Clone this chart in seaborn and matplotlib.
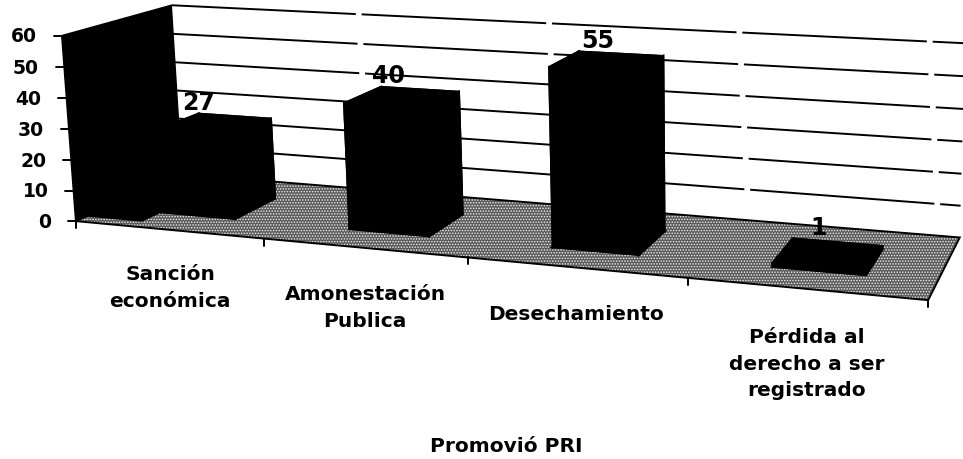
"""
Promovió PRI - 3D style column chart, seaborn bars pushed through a
perspective projection.
"""
import numpy as np
import pandas as pd
import seaborn as sns
import matplotlib.pyplot as plt
from matplotlib.patches import Polygon, Rectangle
from matplotlib.transforms import IdentityTransform, Transform

categories = ["Sanción\neconómica", "Amonestación\nPublica", "Desechamiento",
              "Pérdida al\nderecho a ser\nregistrado"]
values = [27, 40, 55, 1]
y_ticks = [0, 10, 20, 30, 40, 50, 60]
x_title = "Promovió PRI"

W, H = 963, 459
BAR_WIDTH = 0.40
DEPTH_FRONT, DEPTH_BACK = 0.28, 0.69
LABEL_DX = [0, 8, 19, 26]
PIXELS = IdentityTransform()

# known corners of the box: (category pos, value, depth) -> pixel
anchors = [
    ((-0.5, 0, 0), (76, 221)), ((3.5, 0, 0), (928, 300)),
    ((3.5, 0, 1), (960, 237)), ((-0.5, 0, 1), (181, 174)),
    ((-0.5, 60, 1), (172, 6)), ((-0.5, 60, 0), (61, 35)),
    ((3.5, 60, 1), (965, 43)), ((0.5, 0, 0), (265, 238)),
    ((1.5, 0, 0), (468, 258)), ((2.5, 0, 0), (688, 279)),
]


def fit_camera(points):
    rows = []
    for (x, z, d), (u, v) in points:
        rows.append([x, z, d, 1, 0, 0, 0, 0, -u * x, -u * z, -u * d, -u])
        rows.append([0, 0, 0, 0, x, z, d, 1, -v * x, -v * z, -v * d, -v])
    return np.linalg.svd(np.array(rows, dtype=float))[2][-1].reshape(3, 4)


CAMERA = fit_camera(anchors)


def project(x, z, d):
    """Pixel position in display coords (y up)."""
    x, z, d = np.broadcast_arrays(x, z, d)
    pts = np.stack([x, z, d, np.ones_like(x)], axis=-1).astype(float)
    res = pts @ CAMERA.T
    return np.stack([res[..., 0] / res[..., 2],
                     H - res[..., 1] / res[..., 2]], axis=-1)


class DepthPlane(Transform):
    """Data coords (category, value) on a plane at a fixed depth."""
    input_dims = 2
    output_dims = 2

    def __init__(self, plane_depth):
        super().__init__()
        self.plane_depth = plane_depth

    def transform_non_affine(self, values):
        values = np.asarray(values)
        return project(values[:, 0], values[:, 1], self.plane_depth)


def face(ax, corners, **kw):
    return ax.add_patch(Polygon(project(*np.array(corners).T), closed=True,
                                transform=PIXELS, clip_on=False, **kw))


def pixel_text(ax, px, py, s, **kw):
    ax.text(px, H - py, s, transform=PIXELS, ha="center", va="center",
            **kw)


def main():
    sns.set_theme(style="white")
    plt.rcParams["font.family"] = ["DejaVu Sans"]
    plt.rcParams["hatch.linewidth"] = 0.7

    df = pd.DataFrame({"categoria": categories, "valor": values})
    fig = plt.figure(figsize=(W / 100, H / 100), dpi=100)
    ax = fig.add_axes([0, 0, 1, 1])
    sns.barplot(data=df, x="categoria", y="valor", color="black",
                saturation=1, width=BAR_WIDTH, ax=ax)
    ax.set_xlim(-0.5, 3.5)
    ax.set_ylim(0, 60)
    ax.axis("off")
    bars = [p for p in ax.patches if isinstance(p, Rectangle)]

    # floor, left wall
    x0, x1 = -0.5, 3.5
    face(ax, [(x0, 0, 0), (x1, 0, 0), (x1, 0, 1), (x0, 0, 1)],
         facecolor="#5a5a5a", edgecolor="#f0f0f0", hatch="......",
         linewidth=0, zorder=0.2)
    face(ax, [(x0, 0, 0), (x1, 0, 0), (x1, 0, 1), (x0, 0, 1)],
         facecolor="none", edgecolor="black", linewidth=1.4, zorder=0.3)
    face(ax, [(x0, 0, 0), (x0, 60, 0), (x0, 60, 1), (x0, 0, 1)],
         facecolor="black", edgecolor="black", zorder=0.4)
    # scan went solid black between the wall and the first bar
    first_left = bars[0].get_x()
    face(ax, [(x0, 0, 0.1), (first_left, 0, 0.1), (first_left, 0, 1), (x0, 0, 1)],
         facecolor="black", edgecolor="black", zorder=0.4)

    # back wall gridlines, broken here and there like the scan
    ax.hlines(y_ticks[1:], x0, x1, colors="black", linewidth=1.4,
              linestyles=[(0, (95, 3))], transform=DepthPlane(1),
              clip_on=False, zorder=0.25)

    # y ticks and labels
    for tick in y_ticks:
        px, py = project(x0, tick, 0)
        ax.plot([px - 8, px], [py, py], color="black", lw=1.4,
                transform=PIXELS, clip_on=False, zorder=0.5)
        ax.text(px - 25, py - 1, str(tick), transform=PIXELS, ha="right",
                va="center", fontsize=13.5, fontweight="bold", color="black")

    # x ticks along front edge
    for pos in [-0.5, 0.5, 1.5, 2.5, 3.5]:
        px, py = project(pos, 0, 0)
        ax.plot([px, px], [py, py - 7], color="black", lw=1.4,
                transform=PIXELS, clip_on=False, zorder=0.5)

    # extrude the seaborn bars and label each one
    front = DepthPlane(DEPTH_FRONT)
    for rect, val, dx in zip(bars, values, LABEL_DX):
        left = rect.get_x()
        right = left + rect.get_width()
        top = rect.get_height()
        rect.set_transform(front)
        rect.set_clip_on(False)
        rect.set_edgecolor("black")
        rect.set_linewidth(2)
        rect.set_zorder(1.5)
        d0, d1 = DEPTH_FRONT, DEPTH_BACK
        kw = dict(facecolor="black", edgecolor="black", linewidth=2, zorder=1)
        face(ax, [(left, 0, d1), (right, 0, d1),
                  (right, top, d1), (left, top, d1)], **kw)
        face(ax, [(left, top, d0), (right, top, d0),
                  (right, top, d1), (left, top, d1)], **kw)
        face(ax, [(right, 0, d0), (right, top, d0),
                  (right, top, d1), (right, 0, d1)], **kw)
        face(ax, [(left, 0, d0), (left, top, d0),
                  (left, top, d1), (left, 0, d1)], **kw)
        face(ax, [(left, 0, d0), (right, 0, d0),
                  (right, 0, d1), (left, 0, d1)], **kw)
        px, py = project(left, top, d1)
        ax.text(px + dx, py + 11, str(val), transform=PIXELS, ha="center",
                va="center", fontsize=17, fontweight="bold", color="black",
                zorder=3)

    # category labels
    label_spots = [(170, 288), (365, 308), (576, 315), (807, 364)]
    for (px, py), name in zip(label_spots, categories):
        pixel_text(ax, px, py, name, fontsize=14.5, fontweight="bold",
                   color="black", linespacing=1.5)
    pixel_text(ax, 506, 447, x_title, fontsize=14.5, fontweight="bold",
               color="black")

    fig.savefig("out.png", dpi=100)


if __name__ == "__main__":
    main()
